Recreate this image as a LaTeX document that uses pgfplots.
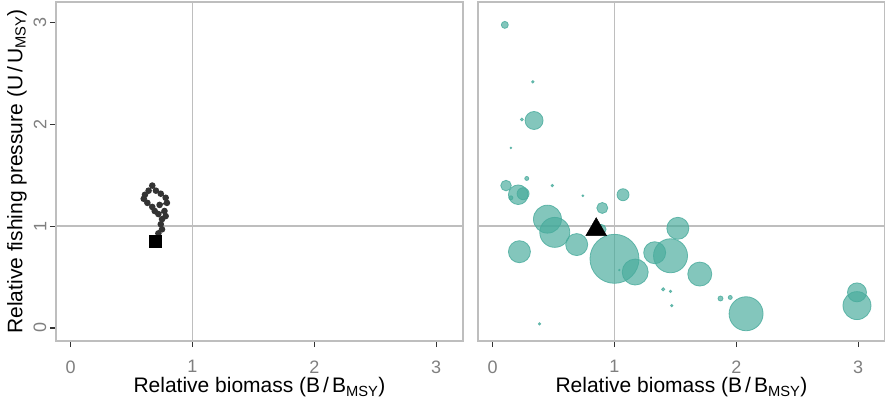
\documentclass[border=0pt]{standalone}
\usepackage{pgfplots}
\pgfplotsset{compat=1.18}
\usepackage{fontspec}
\setmainfont{Liberation Sans}
\definecolor{framegray}{HTML}{BEBEBE}
\definecolor{ticklab}{HTML}{7F7F7F}
\definecolor{tickdark}{HTML}{333333}
\definecolor{ptcol}{HTML}{333333}
\definecolor{bub}{HTML}{48AB9C}
\begin{document}
\begin{tikzpicture}
\pgfplotsset{
  panel/.style={
    scale only axis, width=407bp, height=339bp,
    xmin=-0.12, xmax=3.22, ymin=-0.128, ymax=3.205,
    axis line style={framegray, line width=1.5bp},
    xtick={0,1,2,3}, ytick={0,1,2,3},
    tick align=outside, tick pos=left,
    major tick length=6bp,
    tick style={tickdark, line width=1.2bp},
    ticklabel style={font=\fontsize{18bp}{20bp}\selectfont, text=ticklab},
    xticklabel style={yshift=-10bp},
    yticklabel style={rotate=90, anchor=south, inner sep=3.5bp},
    /pgf/number format/assume math mode=true,
    every axis x label/.style={at={(axis description cs:0.5,0)}, anchor=center, yshift=-46.5bp, font=\fontsize{21bp}{24bp}\selectfont, text=black},
    every axis y label/.style={at={(axis description cs:-0.0958,0.5)}, anchor=center, rotate=90, font=\fontsize{21bp}{24bp}\selectfont, text=black},
    xlabel={Relative biomass (B\kern3bp/\kern3bp B\textsubscript{MSY})},
  }
}
\begin{axis}[panel, at={(56bp,63bp)}, anchor=south west,
  ylabel={Relative fishing pressure (U\kern3bp/\kern3bp U\textsubscript{MSY})}]
\addplot[framegray, line width=1.7bp] coordinates {(1,-0.3) (1,3.4)};
\addplot[framegray, line width=1.7bp] coordinates {(-0.3,1) (3.4,1)};
\addplot[ptcol, line width=1.3bp, mark=*, mark size=2.6bp, mark options={fill=ptcol, draw=ptcol}] coordinates {
(0.73,1.21) (0.79,1.23) (0.78,1.28) (0.74,1.32) (0.70,1.35) (0.67,1.40)
(0.64,1.35) (0.61,1.31) (0.60,1.27) (0.63,1.23) (0.67,1.19) (0.69,1.15)
(0.72,1.12) (0.77,1.15) (0.78,1.10) (0.75,1.07) (0.74,1.02) (0.75,0.97)
(0.72,0.93) (0.693,0.849)};
\addplot[only marks, mark=square*, mark size=6bp, black] coordinates {(0.693,0.849)};
\end{axis}
\begin{axis}[panel, at={(478bp,63bp)}, anchor=south west, ytick=\empty]
\addplot[framegray, line width=1.7bp] coordinates {(1,-0.3) (1,3.4)};
\addplot[framegray, line width=1.7bp] coordinates {(-0.3,1) (3.4,1)};
\addplot[scatter, only marks, mark=*,
  scatter/use mapped color={draw=bub, fill=bub, fill opacity=0.68, draw opacity=0.8},
  mark options={fill opacity=0.68, draw opacity=0.8, line width=0.8bp},
  visualization depends on={\thisrow{r}\as\rr},
  scatter/@pre marker code/.append style={/tikz/mark size=\rr bp}
] table[x=x, y=y] {
x y r
0.10 2.98 3.5
0.33 2.42 1.2
0.24 2.05 1.5
0.34 2.04 9
0.15 1.77 0.8
0.28 1.47 2
0.11 1.40 5.3
0.21 1.31 9.8
0.25 1.32 6
0.15 1.28 2
0.49 1.40 1.2
0.74 1.30 0.9
1.07 1.31 6
0.90 1.18 5.5
0.45 1.07 14
0.51 0.94 15
0.22 0.75 11
0.69 0.82 11
0.89 0.97 5
1.00 0.68 24.5
1.17 0.55 13
1.04 0.57 0.8
0.385 0.04 1.2
1.33 0.74 11
1.46 0.71 17
1.52 0.98 11
1.70 0.53 12
1.40 0.38 1.6
1.46 0.36 1.2
1.47 0.22 1.2
1.87 0.29 2.5
1.95 0.30 2
2.08 0.14 17
2.99 0.35 9.5
2.99 0.22 14
};
\addplot[only marks, mark=triangle*, mark size=12bp, black] coordinates {(0.85,0.967)};
\end{axis}
\pgfresetboundingbox
\path[use as bounding box] (0bp,0bp) rectangle (885bp,404bp);
\end{tikzpicture}
\end{document}
